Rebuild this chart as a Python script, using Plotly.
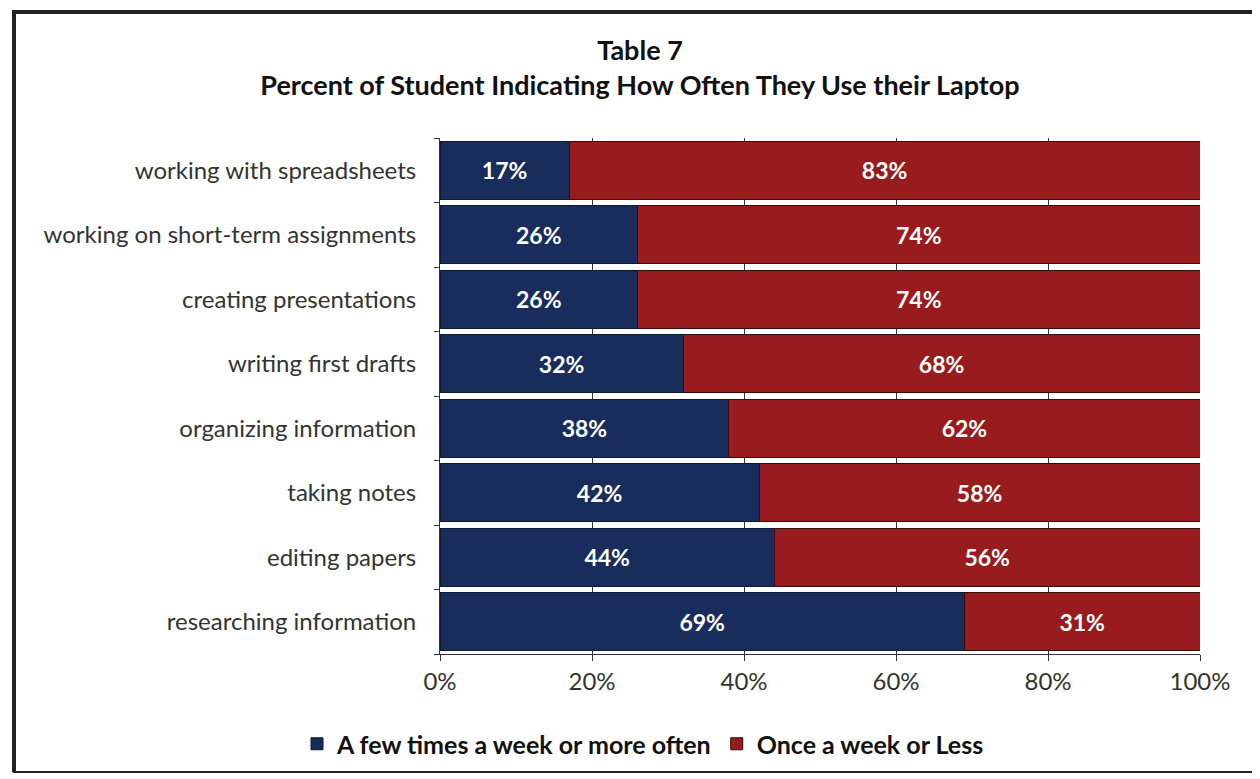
import plotly.graph_objects as go

categories = ["working with spreadsheets", "working on short-term assignments",
              "creating presentations", "writing first drafts",
              "organizing information", "taking notes", "editing papers",
              "researching information"]
few_times = [17, 26, 26, 32, 38, 42, 44, 69]
once_less = [83, 74, 74, 68, 62, 58, 56, 31]
series_names = ["A few times a week or more often", "Once a week or Less"]
x_ticks = [0, 20, 40, 60, 80, 100]
x_tick_labels = ["0%", "20%", "40%", "60%", "80%", "100%"]

OFF = 8  # page body margin
W, H = 1260 - OFF, 779 - OFF
# desired screen coordinates of plot area
SL, SR, ST, SB = 440, 1200, 138, 654
L, T = SL - OFF, ST - OFF
R, B = W - (SR - OFF), H - (SB - OFF)
pw, ph = W - L - R, H - T - B

def px(x):
    return (x - OFF - L) / pw

def py(y):
    return (H - B - (y - OFF)) / ph

FONT = "Lato"
NAVY = "#182d5c"
RED = "#981b1e"

fig = go.Figure()
fig.add_trace(go.Bar(
    y=categories, x=few_times, orientation="h", name=series_names[0],
    marker=dict(color=NAVY, line=dict(color="#0d1a33", width=1)),
    text=[f"{v}%" for v in few_times], textposition="inside",
    insidetextanchor="middle",
    textfont=dict(color="white", size=23, family=FONT, weight="bold"),
))
fig.add_trace(go.Bar(
    y=categories, x=once_less, orientation="h", name=series_names[1],
    marker=dict(color=RED, line=dict(color="#3a0a0a", width=1)),
    text=[f"{v}%" for v in once_less], textposition="inside",
    insidetextanchor="middle",
    textfont=dict(color="white", size=23, family=FONT, weight="bold"),
))

fig.update_layout(
    width=W, height=H, barmode="stack", bargap=0.1,
    margin=dict(l=L, r=R, t=T, b=B),
    paper_bgcolor="white", plot_bgcolor="white",
    font=dict(family=FONT, color="#222222", size=23),
    title=dict(text="<b>Table 7</b><br><b>Percent of Student Indicating How Often They Use their Laptop</b>",
               x=(640 - OFF) / W, xanchor="center", y=1 - (60 - OFF) / H, yanchor="middle",
               font=dict(size=27, family=FONT, color="#111111")),
    xaxis=dict(range=[0, 100], tickvals=x_ticks, ticktext=x_tick_labels,
               showgrid=True, gridcolor="#333333", gridwidth=1,
               ticks="outside", ticklen=6, tickcolor="#333333",
               showline=True, linecolor="#333333", zeroline=False,
               tickfont=dict(size=24, color="#333333")),
    yaxis=dict(categoryorder="array", categoryarray=categories[::-1],
               showline=True, linecolor="#333333", ticks="outside",
               tickson="boundaries", ticklen=5, tickcolor="#333333",
               tickfont=dict(size=24, color="#333333"), ticklabelstandoff=18),
    legend=dict(orientation="h", x=px(643), xanchor="center", y=py(744), yanchor="middle",
                font=dict(size=25, weight="bold", color="#111111"),
                itemwidth=30, traceorder="normal"),
    showlegend=True,
)

# outer frame
fig.add_shape(type="rect", xref="paper", yref="paper",
              x0=px(14), x1=px(1256), y0=py(772), y1=py(13),
              line=dict(color="#222222", width=2), layer="above")
fig.add_shape(type="line", xref="paper", yref="paper",
              x0=px(12), x1=px(1258), y0=py(12), y1=py(12),
              line=dict(color="#222222", width=4))
fig.add_shape(type="line", xref="paper", yref="paper",
              x0=px(14), x1=px(14), y0=py(772), y1=py(12),
              line=dict(color="#222222", width=4))

fig.write_html("out.html")
